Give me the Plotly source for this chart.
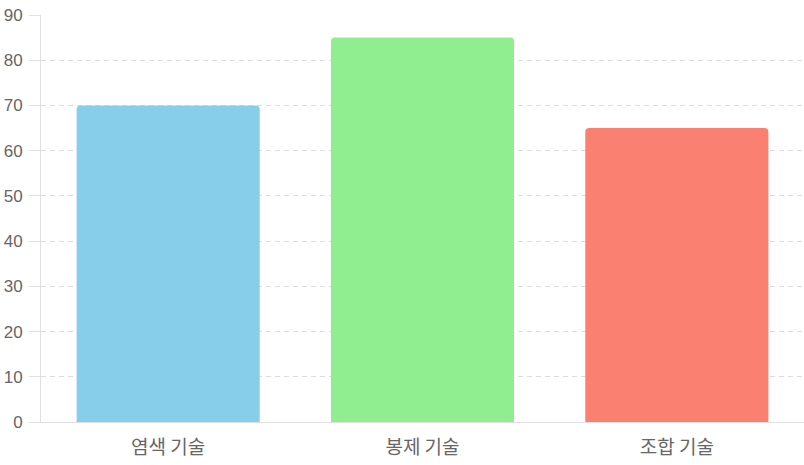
import plotly.graph_objects as go

categories = ["염색 기술", "봉제 기술", "조합 기술"]
values = [70, 85, 65]
colors = ["#87CEEB", "#90EE90", "#FA8072"]
y_ticks = [0, 10, 20, 30, 40, 50, 60, 70, 80, 90]

fig = go.Figure()
fig.add_trace(go.Bar(
    x=categories, y=values,
    marker=dict(color=colors, line=dict(width=0)),
    width=0.72,
    hoverinfo="skip",
))

font_family = "Liberation Sans, Arial, sans-serif"
fig.update_layout(
    width=804, height=465,
    margin=dict(l=41, r=0, t=15, b=43),
    paper_bgcolor="white", plot_bgcolor="white",
    barcornerradius=4,
    showlegend=False,
    font=dict(family=font_family, size=17, color="#666666"),
    xaxis=dict(
        showgrid=False, showline=True, linecolor="#e0e0e0", linewidth=1,
        ticks="", ticklabelstandoff=8,
        tickfont=dict(family="Noto Sans CJK KR, sans-serif", size=19, color="#666666"),
        fixedrange=True, automargin=False,
    ),
    yaxis=dict(
        range=[0, 90], tickvals=y_ticks,
        showgrid=True, gridcolor="#dcdcdc", griddash="5px,4px", gridwidth=1,
        showline=True, linecolor="#e0e0e0", linewidth=1,
        ticks="outside", ticklen=11, tickcolor="#e0e0e0",
        ticklabelstandoff=3,
        tickfont=dict(size=17, color="#666666"),
        zeroline=False, fixedrange=True, automargin=False,
    ),
)

fig.write_html(
    "out.html",
    config={"displayModeBar": False},
    post_script="document.body.style.margin='0';document.body.style.padding='0';",
)
